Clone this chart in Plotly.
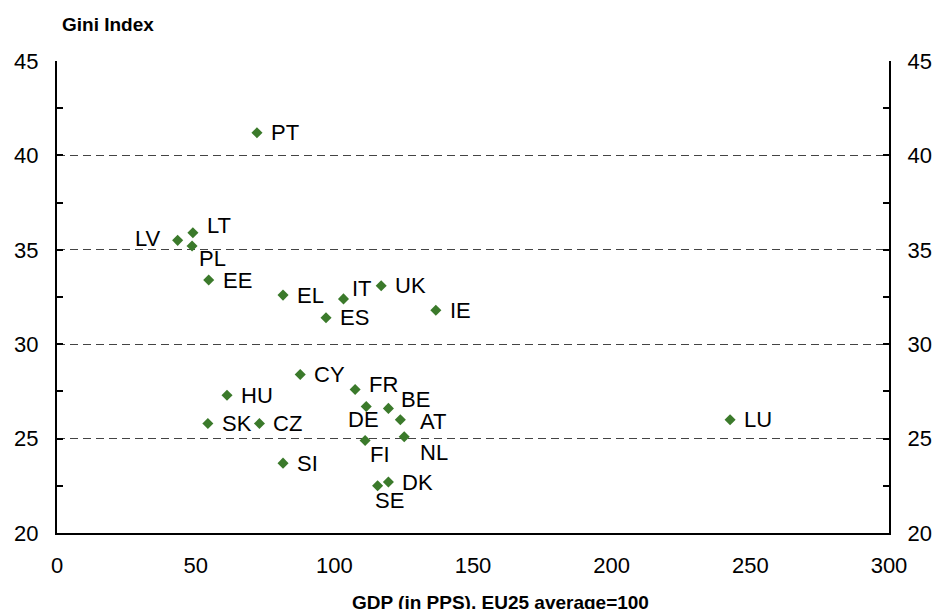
import plotly.graph_objects as go

# country codes, GDP per head in PPS (EU25=100) and Gini index
countries = ["PT", "LT", "LV", "PL", "EE", "EL", "IT", "UK", "ES", "IE",
             "CY", "FR", "HU", "BE", "DE", "AT", "LU", "SK", "CZ", "NL",
             "FI", "SI", "DK", "SE"]
gdp = [72.1, 49.0, 43.5, 48.7, 54.7, 81.5, 103.3, 116.9, 97.0, 136.6,
       87.7, 107.5, 61.3, 119.5, 111.5, 123.8, 242.7, 54.4, 73.0, 125.2,
       111.1, 81.5, 119.5, 115.6]
gini = [41.2, 35.9, 35.5, 35.2, 33.4, 32.6, 32.4, 33.1, 31.4, 31.8,
        28.4, 27.6, 27.3, 26.6, 26.7, 26.0, 26.0, 25.8, 25.8, 25.1,
        24.9, 23.7, 22.7, 22.5]

# label placement relative to the marker (anchor, dx px, dy px down)
label_off = {
    "LT": ("left", 12, -7), "LV": ("right", -15, -2), "PL": ("left", 5, 12),
    "IT": ("left", 7, -10), "FR": ("left", 12, -5), "BE": ("left", 11, -9),
    "DE": ("center", -3, 13), "AT": ("left", 18, 2), "NL": ("left", 14, 16),
    "FI": ("left", 3, 14), "SE": ("center", 12, 15),
}

font = "Liberation Sans, Arial, sans-serif"

fig = go.Figure()

fig.add_trace(go.Scatter(
    x=gdp, y=gini, mode="markers",
    marker=dict(symbol="diamond", size=8.5, color="#3b7a2b"),
    showlegend=False, cliponaxis=False, hoverinfo="skip",
))

# dummy trace so the right-hand axis gets drawn
fig.add_trace(go.Scatter(x=[None], y=[None], yaxis="y2", showlegend=False))

for c, xv, yv in zip(countries, gdp, gini):
    anchor, dx, dy = label_off.get(c, ("left", 12, 0))
    fig.add_annotation(
        x=xv, y=yv, text=c, showarrow=False,
        xanchor=anchor, yanchor="middle", xshift=dx, yshift=-dy,
        font=dict(family=font, size=22, color="black"),
    )

yticks = dict(
    range=[20, 45], tickvals=[20, 25, 30, 35, 40, 45],
    ticks="inside", ticklen=6, tickcolor="black", tickwidth=1.5,
    minor=dict(tickvals=[22.5, 27.5, 32.5, 37.5, 42.5], ticks="inside",
               ticklen=6, tickcolor="black", tickwidth=1.5, showgrid=False),
    tickfont=dict(family=font, size=22, color="black"),
    ticklabelstandoff=12,
    showline=True, linecolor="black", linewidth=2,
    zeroline=False, fixedrange=True, automargin=False,
)

fig.update_layout(
    width=934, height=609,
    margin=dict(l=57, r=45, t=61, b=76),
    plot_bgcolor="white", paper_bgcolor="white",
    xaxis=dict(
        range=[0, 300], tickvals=[0, 50, 100, 150, 200, 250, 300],
        ticks="", showgrid=False, zeroline=False,
        showline=True, linecolor="black", linewidth=2,
        tickfont=dict(family=font, size=22, color="black"),
        ticklabelstandoff=12, automargin=False,
    ),
    yaxis=dict(
        **yticks, side="left",
        showgrid=True, gridcolor="#444444", griddash="8px,5px", gridwidth=1,
    ),
    yaxis2=dict(
        **yticks, side="right", overlaying="y", showgrid=False,
    ),
)

fig.add_annotation(
    text="<b>Gini Index</b>", xref="paper", yref="paper",
    x=0.004, y=1.078, xanchor="left", yanchor="middle", showarrow=False,
    font=dict(family=font, size=19, color="black"),
)
fig.add_annotation(
    text="<b>GDP (in PPS), EU25 average=100</b>", xref="paper", yref="paper",
    x=0.533, y=-0.12, xanchor="center", yanchor="top", showarrow=False,
    font=dict(family=font, size=19, color="black"),
)

# drop the default body margin so the figure fills the window exactly
fig.write_html("out.html", config={"displayModeBar": False},
               post_script="document.body.style.margin='0';"
                           "document.body.style.overflow='hidden';")
